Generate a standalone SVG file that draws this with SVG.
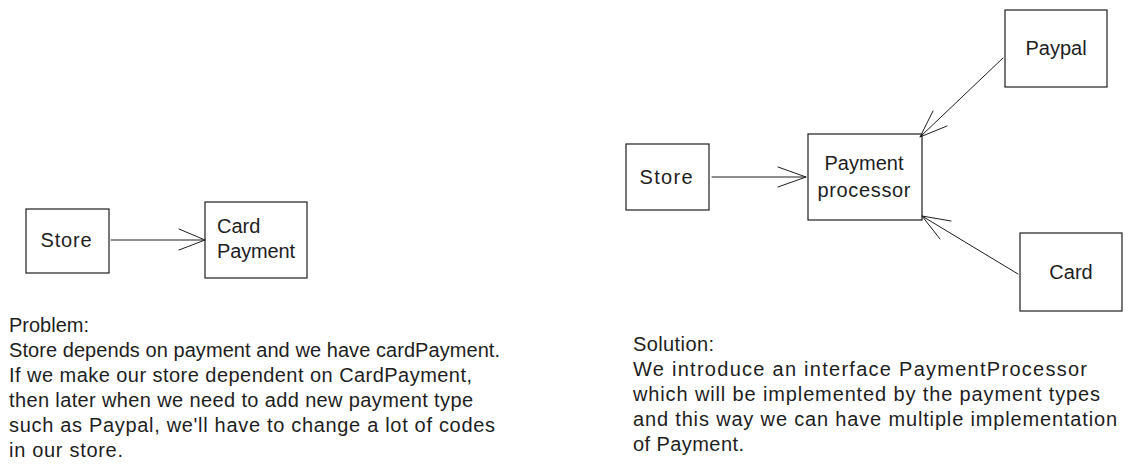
<svg xmlns="http://www.w3.org/2000/svg" width="1134" height="473" viewBox="0 0 1134 473">
<style>
.box{fill:none;stroke:#1e1e1e;stroke-width:1.2}
.t{font-family:"Liberation Sans",Arial,sans-serif;font-size:20px;fill:#1e1e1e}
.c{text-anchor:middle}
.ln{fill:none;stroke:#1e1e1e;stroke-width:1;stroke-linecap:round}
</style>
<rect width="1134" height="473" fill="#ffffff"/>
<g id="store-left"><rect class="box" x="26" y="209" width="83" height="64"/><text class="t c" x="66" y="247" textLength="51" lengthAdjust="spacing">Store</text></g>
<g id="card-payment"><rect class="box" x="205" y="202" width="102" height="76"/><text class="t" x="217" y="233">Card</text><text class="t" x="217" y="258" textLength="78" lengthAdjust="spacing">Payment</text></g>
<g id="store-right"><rect class="box" x="626" y="144" width="83" height="66"/><text class="t c" x="666" y="184" textLength="53" lengthAdjust="spacing">Store</text></g>
<g id="payment-processor"><rect class="box" x="808" y="134" width="114" height="86"/><text class="t c" x="864" y="170">Payment</text><text class="t c" x="864" y="197" textLength="93" lengthAdjust="spacing">processor</text></g>
<g id="paypal"><rect class="box" x="1005" y="10" width="102" height="77"/><text class="t c" x="1056" y="55">Paypal</text></g>
<g id="card"><rect class="box" x="1020" y="233" width="102" height="78"/><text class="t c" x="1071" y="279">Card</text></g>
<g id="connectors">
<path class="ln" d="M111 240 L205 240 M179 229 L205 240 L179 250"/>
<path class="ln" d="M712 177 L806 177 M778 167 L806 177 L778 187"/>
<path class="ln" d="M1003 58 L920 137 M933 111 L920 137 L947 126"/>
<path class="ln" d="M1018 274 L922 216 M951 221 L922 216 L940 239"/>
</g>
<g id="problem-text" class="t">
<text x="9" y="332">Problem:</text>
<text x="9" y="357" textLength="491" lengthAdjust="spacing">Store depends on payment and we have cardPayment.</text>
<text x="9" y="382" textLength="463" lengthAdjust="spacing">If we make our store dependent on CardPayment,</text>
<text x="9" y="407" textLength="464" lengthAdjust="spacing">then later when we need to add new payment type</text>
<text x="9" y="432" textLength="486" lengthAdjust="spacing">such as Paypal, we'll have to change a lot of codes</text>
<text x="9" y="457" textLength="114" lengthAdjust="spacing">in our store.</text>
</g>
<g id="solution-text" class="t">
<text x="633" y="351" textLength="81" lengthAdjust="spacing">Solution:</text>
<text x="633" y="376" textLength="454" lengthAdjust="spacing">We introduce an interface PaymentProcessor</text>
<text x="633" y="401" textLength="467" lengthAdjust="spacing">which will be implemented by the payment types</text>
<text x="633" y="426" textLength="484" lengthAdjust="spacing">and this way we can have multiple implementation</text>
<text x="633" y="451" textLength="111" lengthAdjust="spacing">of Payment.</text>
</g>
</svg>
